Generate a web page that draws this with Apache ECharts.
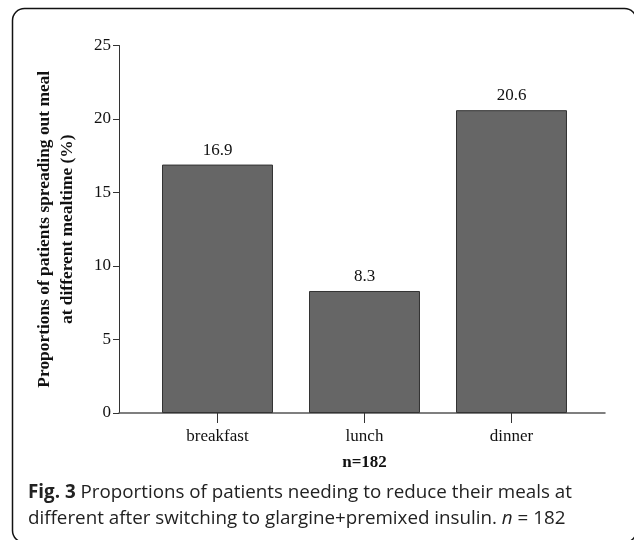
<!DOCTYPE html>
<html><head><meta charset="utf-8">
<script src="https://cdn.jsdelivr.net/npm/echarts@6/dist/echarts.min.js"></script>
<style>html,body{margin:0;padding:0;background:#fff}#c{width:634px;height:540px}</style>
</head><body><div id="c"></div>
<script>
var categories = ['breakfast', 'lunch', 'dinner'];
var values = [16.9, 8.3, 20.6];
var yTicks = [0, 5, 10, 15, 20, 25];
var yTitle = 'Proportions of patients spreading out meal\nat different mealtime (%)';
var xTitle = 'n=182';
var captionBold = 'Fig. 3';
var captionLine1 = ' Proportions of patients needing to reduce their meals at';
var captionLine2 = 'different after switching to glargine+premixed insulin. ';
var captionN = 'n';
var captionEnd = ' = 182';

var serif = 'Liberation Serif';
var chart = echarts.init(document.getElementById('c'), null, {renderer: 'canvas'});
chart.setOption({
  animation: false,
  backgroundColor: '#fff',
  grid: [
    {left: 144, right: 49, top: 45.5, bottom: 127},
    {left: 119, right: 29, top: 45.5, bottom: 127}
  ],
  xAxis: [
    {
      type: 'category', gridIndex: 0, data: categories,
      axisLine: {show: false},
      axisTick: {show: true, alignWithLabel: true, length: 10, lineStyle: {color: '#333', width: 1}},
      axisLabel: {color: '#111', fontFamily: serif, fontSize: 17, margin: 15},
      name: xTitle, nameLocation: 'middle', nameGap: 41,
      nameTextStyle: {color: '#111', fontFamily: serif, fontSize: 17, fontWeight: 'bold'}
    },
    {
      type: 'value', gridIndex: 1, min: 0, max: 1,
      axisLine: {show: true, onZero: false, lineStyle: {color: '#555', width: 1.5}},
      axisTick: {show: false}, axisLabel: {show: false}, splitLine: {show: false}
    }
  ],
  yAxis: [
    {
      type: 'value', gridIndex: 0, min: yTicks[0], max: yTicks[yTicks.length - 1], interval: 5,
      offset: 25,
      axisLine: {show: true, lineStyle: {color: '#333', width: 1}},
      axisTick: {show: true, length: 6, lineStyle: {color: '#333'}},
      axisLabel: {color: '#111', fontFamily: serif, fontSize: 17, margin: 8},
      splitLine: {show: false},
      name: yTitle, nameLocation: 'middle', nameGap: 39.5,
      nameTextStyle: {color: '#111', fontFamily: serif, fontSize: 17.4, fontWeight: 'bold', lineHeight: 23, align: 'center'}
    },
    {
      type: 'value', gridIndex: 1, min: 0, max: 1, show: false
    }
  ],
  series: [{
    type: 'bar', xAxisIndex: 0, yAxisIndex: 0,
    data: values, barWidth: '75.5%',
    itemStyle: {color: '#666666', borderColor: '#333', borderWidth: 1},
    label: {show: true, position: 'top', distance: 6, color: '#111', fontFamily: serif, fontSize: 17,
      formatter: function (p) { return p.value.toFixed(1); }}
  }],
  graphic: [
    {type: 'rect', shape: {x: 12.5, y: 8.5, width: 624, height: 534, r: 12},
      style: {fill: 'none', stroke: '#111', lineWidth: 1.5}, silent: true},
    {type: 'text', left: 28, top: 480,
      style: {
        text: '{b|' + captionBold + '}' + captionLine1 + '\n' + captionLine2 + '{i|' + captionN + '}' + captionEnd,
        fontFamily: 'Open Sans', fontSize: 18.8, fill: '#222', lineHeight: 26,
        rich: {b: {fontFamily: 'Open Sans', fontWeight: 'bold', fontSize: 18.8, fill: '#222'},
               i: {fontFamily: 'Open Sans', fontStyle: 'italic', fontSize: 18.8, fill: '#222'}}
      }}
  ]
});
</script></body></html>
